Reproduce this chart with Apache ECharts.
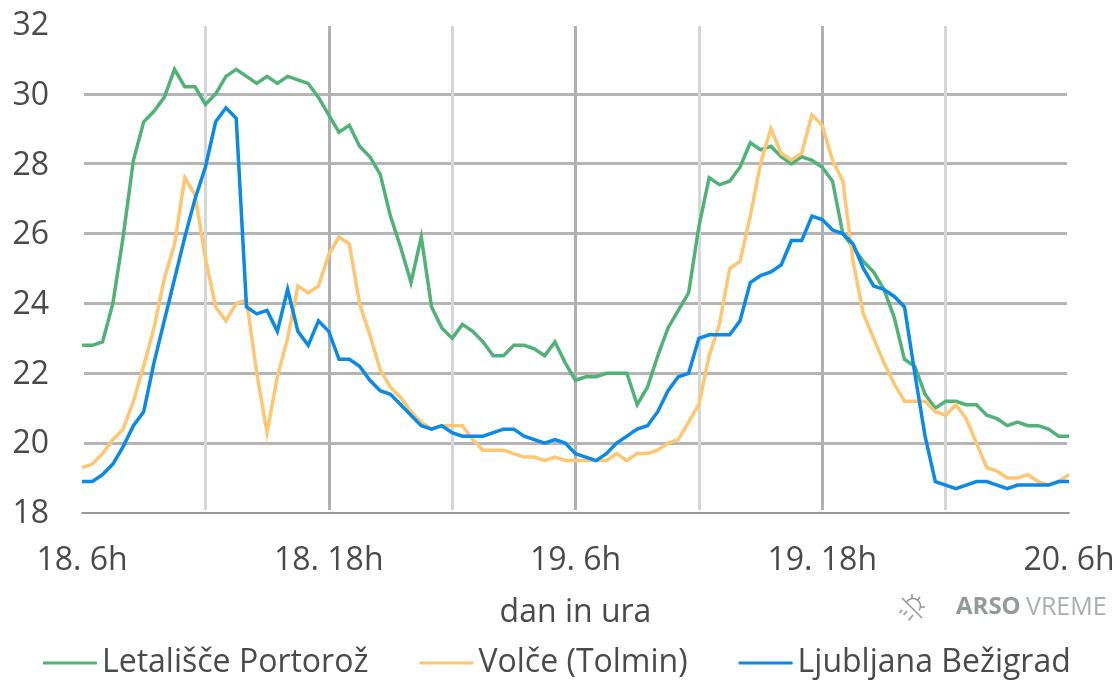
<!DOCTYPE html>
<html><head><meta charset="utf-8">
<style>html,body{margin:0;padding:0;background:#fff}#c{width:1120px;height:680px}</style>
<script src="https://cdn.jsdelivr.net/npm/echarts@6/dist/echarts.min.js"></script>
</head><body><div id="c"></div>
<script>
const tickLabels = {0:'18. 6h',24:'18. 18h',48:'19. 6h',72:'19. 18h',96:'20. 6h'};
const categories = Array.from({length:97},(_,i)=>String(i));
const portoroz = [22.8,22.8,22.9,24.0,25.9,28.1,29.2,29.5,29.9,30.7,30.2,30.2,29.7,30.0,30.5,30.7,30.5,30.3,30.5,30.3,30.5,30.4,30.3,29.9,29.4,28.9,29.1,28.5,28.2,27.7,26.5,25.6,24.6,25.9,23.9,23.3,23.0,23.4,23.2,22.9,22.5,22.5,22.8,22.8,22.7,22.5,22.9,22.3,21.8,21.9,21.9,22.0,22.0,22.0,21.1,21.6,22.5,23.3,23.8,24.3,26.2,27.6,27.4,27.5,27.9,28.6,28.4,28.5,28.2,28.0,28.2,28.1,27.9,27.5,26.0,25.6,25.2,24.9,24.4,23.6,22.4,22.2,21.4,21.0,21.2,21.2,21.1,21.1,20.8,20.7,20.5,20.6,20.5,20.5,20.4,20.2,20.2];
const volce = [19.3,19.4,19.7,20.1,20.4,21.2,22.2,23.3,24.7,25.7,27.6,27.1,25.3,23.9,23.5,24.0,24.1,22.0,20.3,21.9,23.0,24.5,24.3,24.5,25.4,25.9,25.7,24.0,23.1,22.1,21.6,21.3,20.9,20.6,20.4,20.5,20.5,20.5,20.1,19.8,19.8,19.8,19.7,19.6,19.6,19.5,19.6,19.5,19.5,19.5,19.5,19.5,19.7,19.5,19.7,19.7,19.8,20.0,20.1,20.6,21.1,22.5,23.4,25.0,25.2,26.5,28.0,29.0,28.3,28.1,28.3,29.4,29.1,28.1,27.5,25.2,23.7,23.0,22.3,21.7,21.2,21.2,21.2,20.9,20.8,21.1,20.7,20.0,19.3,19.2,19.0,19.0,19.1,18.9,18.8,18.9,19.1];
const ljubljana = [18.9,18.9,19.1,19.4,19.9,20.5,20.9,22.3,23.5,24.7,25.9,27.0,27.9,29.2,29.6,29.3,23.9,23.7,23.8,23.2,24.4,23.2,22.8,23.5,23.2,22.4,22.4,22.2,21.8,21.5,21.4,21.1,20.8,20.5,20.4,20.5,20.3,20.2,20.2,20.2,20.3,20.4,20.4,20.2,20.1,20.0,20.1,20.0,19.7,19.6,19.5,19.7,20.0,20.2,20.4,20.5,20.9,21.5,21.9,22.0,23.0,23.1,23.1,23.1,23.5,24.6,24.8,24.9,25.1,25.8,25.8,26.5,26.4,26.1,26.0,25.7,25.0,24.5,24.4,24.2,23.9,22.0,20.2,18.9,18.8,18.7,18.8,18.9,18.9,18.8,18.7,18.8,18.8,18.8,18.8,18.9,18.9];
const seriesNames = ['Letališče Portorož','Volče (Tolmin)','Ljubljana Bežigrad'];
const colors = ['#50b277','#ffc671','#0a8ae6'];
const FONT = '"Open Sans"', TXT = '#4a4a4a', LOGO='#939a97';
const chart = echarts.init(document.getElementById('c'));
const mk = (name,data,c)=>({name,type:'line',data,xAxisIndex:0,yAxisIndex:0,showSymbol:false,symbol:'none',smooth:false,
  lineStyle:{color:c,width:3.5,join:'miter'},itemStyle:{color:c},z:5,animation:false});
const logoLine=(x1,y1,x2,y2,w)=>({type:'line',shape:{x1,y1,x2,y2},style:{stroke:LOGO,lineWidth:w||1.6}});
chart.setOption({
  animation:false,
  backgroundColor:'#fff',
  textStyle:{fontFamily:FONT},
  grid:[
    {left:82,right:51,top:24,bottom:167},
    {left:84,right:53,top:24,bottom:167},
    {left:82,right:51,top:26,bottom:170},
    {left:81,right:51,top:26,bottom:166}
  ],
  xAxis:[
    {gridIndex:0,type:'category',data:categories,boundaryGap:false,
     axisLine:{lineStyle:{color:'#777',width:1.5}},axisTick:{show:false},splitLine:{show:false},
     axisLabel:{interval:0,showMinLabel:true,showMaxLabel:true,hideOverlap:false,color:TXT,fontSize:32,fontFamily:FONT,margin:32,
       formatter:(v,i)=>tickLabels[i]||''},
     name:'dan in ura',nameLocation:'middle',nameGap:84,nameTextStyle:{color:TXT,fontSize:32,fontFamily:FONT}},
    {gridIndex:1,type:'value',min:0,max:1,show:false},
    {gridIndex:2,type:'category',data:categories,boundaryGap:false,
     axisLine:{show:false},axisTick:{show:false},axisLabel:{show:false},
     splitLine:{show:true,showMinLine:false,showMaxLine:false,interval:11,lineStyle:{color:['#d6d6d6','#b0b0b0'],width:3}}},
    {gridIndex:3,type:'value',min:0,max:1,show:false}
  ],
  yAxis:[
    {gridIndex:0,type:'value',min:18,max:32,interval:2,show:false},
    {gridIndex:1,type:'value',min:18,max:32,interval:2,
     axisLine:{show:false},axisTick:{show:false},axisLabel:{show:false},
     splitLine:{show:true,showMinLine:false,showMaxLine:false,lineStyle:{color:'#b5b5b5',width:3}}},
    {gridIndex:2,type:'value',min:0,max:1,show:false},
    {gridIndex:3,type:'value',min:18,max:32,interval:2,
     axisLine:{show:false},axisTick:{show:false},splitLine:{show:false},
     axisLabel:{color:TXT,fontSize:32,fontFamily:FONT,margin:32}}
  ],
  legend:{data:seriesNames,left:38,top:642,itemWidth:54,itemHeight:3,itemGap:51,icon:'roundRect',
    textStyle:{color:TXT,fontSize:32,fontFamily:FONT}},
  series:[
    {type:'line',xAxisIndex:2,yAxisIndex:2,data:[],silent:true},
    {type:'line',xAxisIndex:1,yAxisIndex:1,data:[],silent:true},
    {type:'line',xAxisIndex:3,yAxisIndex:3,data:[],silent:true},
    mk(seriesNames[0],portoroz,colors[0]),
    mk(seriesNames[1],volce,colors[1]),
    mk(seriesNames[2],ljubljana,colors[2])
  ],
  graphic:[
    {type:'text',left:956,top:595,style:{text:'ARSO',fontSize:24,fontWeight:'bold',fontFamily:FONT,fill:LOGO}},
    {type:'text',left:1026,top:595,style:{text:'VREME',fontSize:25,fontWeight:'normal',fontFamily:FONT,fill:'#a9afac'}},
    {type:'group',silent:true,children:[
      {type:'arc',shape:{cx:913,cy:606,r:7.5,startAngle:-2.6,endAngle:0.6,clockwise:true},style:{stroke:LOGO,lineWidth:1.6,fill:'none'}},
      logoLine(902,598,922,618),
      logoLine(912,594,912,598),
      logoLine(920,597,917.5,600),
      logoLine(925,607,921,607),
      logoLine(899.5,613,902,610),
      logoLine(903.5,615,907,611),
      logoLine(908.5,620.5,913,615)
    ]}
  ]
});
</script></body></html>
